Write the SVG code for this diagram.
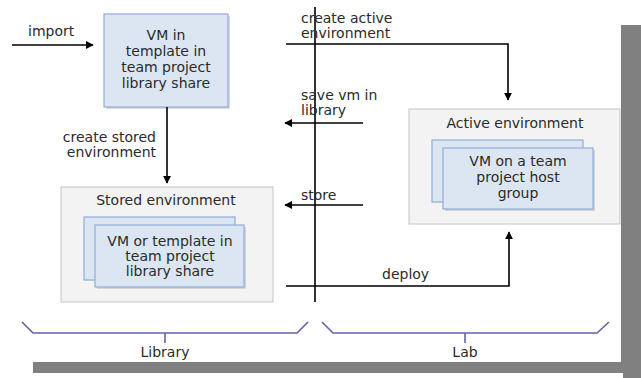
<svg xmlns="http://www.w3.org/2000/svg" width="641" height="378" viewBox="0 0 641 378">
<style>
text{font-family:"DejaVu Sans","Verdana",sans-serif;font-size:14px;fill:#2a2a2a}
.c{text-anchor:middle}
.e{text-anchor:end}
.env{fill:#f3f3f3;stroke:#c4c4c4;stroke-width:1}
.card{fill:#dce6f2;stroke:#92acd8;stroke-width:1.2}
.sh{fill:#b8bcc4;opacity:0.55}
.ln{fill:none;stroke:#000;stroke-width:1.6}
.br{fill:none;stroke:#6164a8;stroke-width:1.6}
</style>
<defs>
<marker id="ah" viewBox="0 0 10 10" refX="9" refY="5" markerWidth="8" markerHeight="8" markerUnits="userSpaceOnUse" orient="auto">
<path d="M0,0 L10,5 L0,10 z" fill="#000"/>
</marker>
</defs>
<rect x="0" y="0" width="641" height="378" fill="#fff"/>
<rect x="33" y="25" width="608" height="348" fill="#808080"/>
<rect x="623" y="373" width="18" height="5" fill="#808080"/>
<rect x="0" y="0" width="621" height="362" fill="#fff"/>

<g id="vm-template">
<rect class="sh" x="106" y="16" width="124" height="93"/>
<rect class="card" x="104" y="14" width="124" height="93"/>
<text class="c" x="166" y="40">VM in</text>
<text class="c" x="166" y="56">template in</text>
<text class="c" x="166" y="72">team project</text>
<text class="c" x="166" y="88">library share</text>
</g>

<g id="stored-environment">
<rect class="env" x="61" y="187" width="212" height="115"/>
<text class="c" x="166" y="205">Stored environment</text>
<rect class="card" x="84" y="217" width="151" height="63"/>
<rect class="sh" x="97" y="227" width="149" height="62"/>
<rect class="card" x="95" y="225" width="149" height="62"/>
<text class="c" x="170" y="246">VM or template in</text>
<text class="c" x="170" y="261">team project</text>
<text class="c" x="170" y="276">library share</text>
</g>

<g id="active-environment">
<rect class="env" x="409" y="109" width="211" height="115"/>
<text class="c" x="515" y="128">Active environment</text>
<rect class="card" x="432" y="140" width="151" height="62"/>
<rect class="sh" x="445" y="150" width="150" height="61"/>
<rect class="card" x="443" y="148" width="150" height="61"/>
<text class="c" x="518" y="166">VM on a team</text>
<text class="c" x="518" y="182">project host</text>
<text class="c" x="518" y="198">group</text>
</g>

<g id="connectors">
<line class="ln" x1="315" y1="7" x2="315" y2="302"/>
<line class="ln" x1="12" y1="45" x2="93" y2="45" marker-end="url(#ah)"/>
<line class="ln" x1="167" y1="107" x2="167" y2="183" marker-end="url(#ah)"/>
<polyline class="ln" points="286,44 508,44 508,100" marker-end="url(#ah)"/>
<line class="ln" x1="363" y1="123" x2="285" y2="123" marker-end="url(#ah)"/>
<line class="ln" x1="363" y1="205" x2="285" y2="205" marker-end="url(#ah)"/>
<polyline class="ln" points="286,286 509,286 509,232" marker-end="url(#ah)"/>
</g>

<g id="labels">
<text x="28" y="36">import</text>
<text class="e" x="156" y="142">create stored</text>
<text class="e" x="156" y="157">environment</text>
<text x="301" y="23">create active</text>
<text x="301" y="38">environment</text>
<text x="301" y="100">save vm in</text>
<text x="301" y="115">library</text>
<text x="301" y="200">store</text>
<text x="382" y="279">deploy</text>
</g>

<g id="library-brace">
<polyline class="br" points="22,322 33,333 297,333 308,322"/>
<line class="br" x1="165" y1="333" x2="165" y2="343"/>
<text class="c" x="165" y="357">Library</text>
</g>

<g id="lab-brace">
<polyline class="br" points="322,322 333,333 597,333 609,322"/>
<line class="br" x1="465" y1="333" x2="465" y2="343"/>
<text class="c" x="465" y="357">Lab</text>
</g>
</svg>
